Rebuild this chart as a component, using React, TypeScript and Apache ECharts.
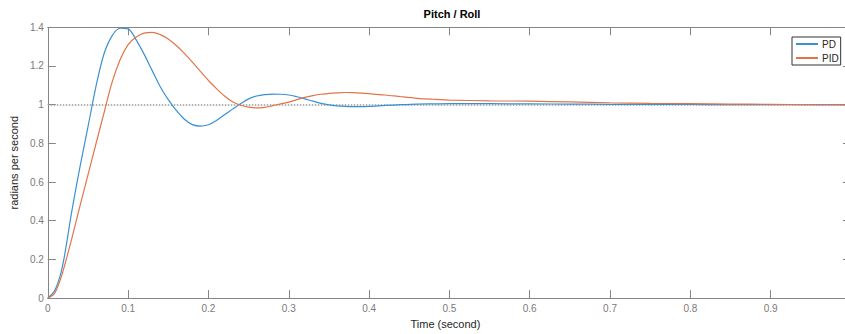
import React, { useEffect, useRef } from "react";
import * as echarts from "echarts";

// Sample times (s) shared by both responses
const timeSteps = [
  0, 0.008, 0.015, 0.02, 0.03, 0.04, 0.05, 0.06, 0.07, 0.08, 0.09,
  0.1, 0.11, 0.12, 0.13, 0.14, 0.15, 0.16, 0.17, 0.18, 0.19,
  0.2, 0.21, 0.22, 0.23, 0.24, 0.25, 0.26, 0.27, 0.28, 0.29,
  0.3, 0.31, 0.32, 0.33, 0.34, 0.35, 0.36, 0.37, 0.38, 0.39,
  0.4, 0.42, 0.44, 0.46, 0.48, 0.5, 0.55, 0.6, 0.65, 0.7,
  0.75, 0.8, 0.85, 0.9, 0.95, 1.0,
];

// Step response with the PD controller
const pdResponse = [
  0, 0.035, 0.11, 0.2, 0.452, 0.677, 0.885, 1.095, 1.263, 1.356, 1.395,
  1.392, 1.335, 1.26, 1.176, 1.093, 1.026, 0.97, 0.925, 0.897, 0.889,
  0.896, 0.918, 0.948, 0.977, 1.005, 1.03, 1.045, 1.052, 1.055, 1.054,
  1.05, 1.041, 1.03, 1.018, 1.007, 0.999, 0.994, 0.991, 0.99, 0.99,
  0.991, 0.996, 1.0, 1.003, 1.004, 1.005, 1.005, 1.004, 1.003, 1.002,
  1.001, 1.001, 1.0, 1.0, 1.0, 1.0,
];

// Step response with the PID controller
const pidResponse = [
  0, 0.022, 0.088, 0.155, 0.31, 0.475, 0.637, 0.798, 0.958, 1.115, 1.232,
  1.31, 1.35, 1.37, 1.374, 1.362, 1.34, 1.306, 1.265, 1.22, 1.172,
  1.125, 1.083, 1.045, 1.015, 0.997, 0.987, 0.983, 0.986, 0.995, 1.004,
  1.013, 1.026, 1.038, 1.047, 1.054, 1.058, 1.061, 1.063, 1.062, 1.06,
  1.057, 1.05, 1.041, 1.033, 1.028, 1.024, 1.02, 1.018, 1.014, 1.01,
  1.007, 1.005, 1.003, 1.002, 1.0, 0.999,
];

const seriesNames = ["PD", "PID"];
const seriesColors = ["#3a91d2", "#e2744a"];
const referenceLevel = 1;

const AXIS_COLOR = "#858585";
const LABEL_COLOR = "#7a7a7a";
const TEXT_COLOR = "#262626";
const FONT = "'Liberation Sans', Arial, Helvetica, sans-serif";

export default function App() {
  const ref = useRef<HTMLDivElement>(null);

  useEffect(() => {
    if (!ref.current) return;
    const chart = echarts.init(ref.current, null, { renderer: "svg" });

    const responses = [pdResponse, pidResponse];

    const axisLine = { show: true, onZero: false, lineStyle: { color: AXIS_COLOR, width: 1 } };
    const axisTick = { show: true, inside: true, length: 8, lineStyle: { color: AXIS_COLOR } };

    // Mirror axes on the top and right edges: box line and inward ticks only
    const mirrored = {
      axisLine,
      axisTick,
      axisLabel: { show: false },
      splitLine: { show: false },
    };

    chart.setOption({
      animation: false,
      backgroundColor: "#ffffff",
      textStyle: { fontFamily: FONT },
      title: {
        text: "Pitch / Roll",
        left: 447,
        top: 3,
        textAlign: "center",
        textStyle: { fontSize: 11, fontWeight: "bold", color: "#000000", fontFamily: FONT },
      },
      legend: {
        data: seriesNames,
        orient: "vertical",
        left: 792,
        top: 37,
        padding: [2, 2, 2, 3],
        itemGap: 4,
        itemWidth: 22,
        itemHeight: 10,
        itemStyle: { opacity: 0 },
        backgroundColor: "#ffffff",
        borderColor: "#333333",
        borderWidth: 1,
        borderRadius: 0,
        textStyle: { fontSize: 10, color: TEXT_COLOR, fontFamily: FONT, padding: [0, 0, 0, -1] },
      },
      grid: { left: 45, top: 27.3, width: 806, height: 273.2, containLabel: false },
      xAxis: [
        {
          type: "value",
          position: "bottom",
          min: 0,
          max: 1,
          interval: 0.1,
          name: "Time (second)",
          nameLocation: "middle",
          nameGap: 17,
          nameTextStyle: { fontSize: 11, color: TEXT_COLOR, fontFamily: FONT, padding: [0, 8, 0, 0] },
          axisLine,
          axisTick,
          axisLabel: {
            color: LABEL_COLOR,
            fontSize: 10,
            margin: 5,
            fontFamily: FONT,
            formatter: (v: number) => (v > 0.95 ? "" : String(Math.round(v * 10) / 10)),
          },
          splitLine: { show: false },
        },
        { type: "value", position: "top", min: 0, max: 1, interval: 0.1, ...mirrored },
      ],
      yAxis: [
        {
          type: "value",
          position: "left",
          min: 0,
          max: 1.4,
          interval: 0.2,
          name: "radians per second",
          nameLocation: "middle",
          nameGap: 16,
          nameTextStyle: { fontSize: 11, color: TEXT_COLOR, fontFamily: FONT },
          axisLine,
          axisTick,
          axisLabel: {
            color: LABEL_COLOR,
            fontSize: 10,
            margin: 4,
            fontFamily: FONT,
            formatter: (v: number) => String(Math.round(v * 10) / 10),
          },
          splitLine: { show: false },
        },
        { type: "value", position: "right", min: 0, max: 1.4, interval: 0.2, ...mirrored },
      ],
      series: seriesNames.map((name, i) => ({
        name,
        type: "line",
        xAxisIndex: 0,
        yAxisIndex: 0,
        data: timeSteps.map((t, k) => [t, responses[i][k]]),
        smooth: 0.3,
        symbol: "none",
        color: seriesColors[i],
        lineStyle: { color: seriesColors[i], width: 1.2 },
        z: 3 + i,
        markLine:
          i === 0
            ? {
                silent: true,
                symbol: "none",
                label: { show: false },
                lineStyle: { color: "#9a9a9a", type: [1.5, 1.5], width: 1.5 },
                data: [{ yAxis: referenceLevel }],
                z: 1,
              }
            : undefined,
      })),
    });

    return () => chart.dispose();
  }, []);

  return (
    <div
      style={{
        position: "fixed",
        left: 0,
        top: 0,
        width: 845,
        height: 334,
        overflow: "hidden",
        background: "#ffffff",
      }}
    >
      <div ref={ref} style={{ width: 856, height: 334 }} />
    </div>
  );
}
